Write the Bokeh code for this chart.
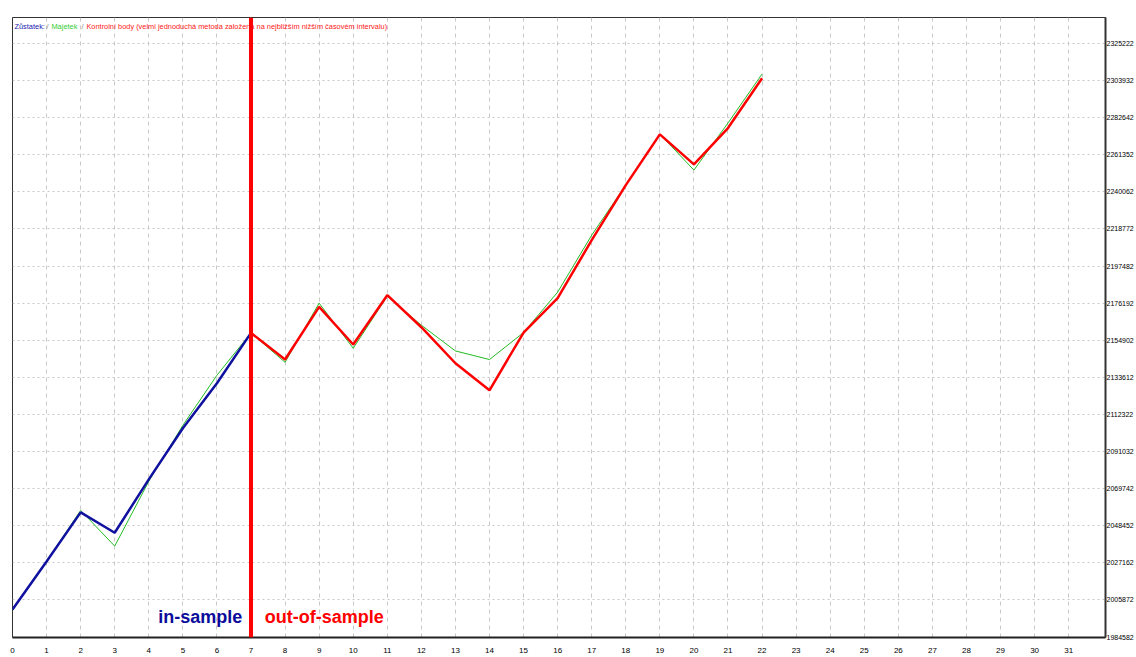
from bokeh.plotting import figure
from bokeh.models import Range1d, FixedTicker, Span, LinearAxis, BasicTickFormatter
from bokeh.core.properties import value
from bokeh.embed import file_html
from bokeh.resources import INLINE

# ---- data ----
x_balance = [0, 1, 2, 3, 4, 5, 6, 7]
balance = [2000381, 2027957, 2056107, 2044445, 2075066, 2104365, 2130218, 2159115]

x_equity = list(range(0, 23))
equity = [2000381, 2027957, 2057256, 2036747, 2073917, 2106089, 2134814, 2159115,
          2142282, 2176178, 2150325, 2180199, 2163539, 2148774, 2143833, 2159345,
          2182497, 2215244, 2243969, 2273268, 2252586, 2279588, 2307738]

x_control = list(range(7, 23))
control = [2159115, 2143833, 2174052, 2152451, 2180774, 2162390, 2141708, 2126196,
           2159345, 2179050, 2212371, 2243969, 2273096, 2255861, 2276715, 2305268]

y_ticks = [1984582 + k * 21290 for k in range(17)]
x_ticks = list(range(0, 32))
split_index = 7

legend_parts = ["Zůstatek:", "/", "Majetek", "/",
                "Kontrolní body (velmi jednoduchá metoda založená na nejbližším nižším časovém intervalu)"]
legend_colors = ["#1a1ab0", "#888888", "#33cc33", "#888888", "#ff2020"]
legend_px = [14, 46, 51, 81, 86]

BLUE = "#1111a0"
RED = "#ff0000"
GREEN = "#22bb22"
FONT = "Liberation Sans"

p = figure(width=1136, height=655, output_backend="svg", toolbar_location=None,
           x_range=Range1d(0, 32.08), y_range=Range1d(1984295, 2340158),
           min_border_left=12, min_border_top=17, min_border_right=0, min_border_bottom=0,
           y_axis_location=None)

p.background_fill_color = "white"
p.border_fill_color = "white"
p.outline_line_color = "#333333"
p.outline_line_width = 1

# x axis
p.xaxis.ticker = FixedTicker(ticks=x_ticks)
p.xaxis.axis_line_color = "#222222"
p.xaxis.axis_line_width = 2
p.xaxis.major_tick_line_color = None
p.xaxis.minor_tick_line_color = None
p.xaxis.major_label_standoff = 4
p.xaxis.major_label_text_font = FONT
p.xaxis.major_label_text_font_size = "8px"
p.xaxis.major_label_text_color = "#000000"

# right y axis
yax = LinearAxis(ticker=FixedTicker(ticks=y_ticks),
                 formatter=BasicTickFormatter(use_scientific=False))
yax.axis_line_color = "#333333"
yax.axis_line_width = 2
yax.major_tick_line_color = None
yax.minor_tick_line_color = None
yax.major_tick_out = 0
yax.major_tick_in = 0
yax.major_label_standoff = 1
yax.major_label_text_font = FONT
yax.major_label_text_font_size = "7px"
yax.major_label_text_color = "#000000"
p.add_layout(yax, "right")

# grid
p.xgrid.ticker = FixedTicker(ticks=x_ticks)
p.xgrid.grid_line_color = "#c8c8c8"
p.xgrid.grid_line_dash = "4 4"
p.ygrid.ticker = FixedTicker(ticks=y_ticks)
p.ygrid.grid_line_color = "#c8c8c8"
p.ygrid.grid_line_dash = "2 3"

# lines
p.line(x_equity, equity, line_color=GREEN, line_width=1)
p.line(x_balance, balance, line_color=BLUE, line_width=2.5)
p.line(x_control, control, line_color=RED, line_width=2.5)

# split line
p.add_layout(Span(location=split_index, dimension="height", line_color=RED, line_width=4))

# legend text at top (pixel -> data mapping)
def px_to_x(px):
    return (px - 12) / 34.1

def py_to_y(py):
    return 1984582 + (636.5 - py) * 574.5

for txt, col, px in zip(legend_parts, legend_colors, legend_px):
    p.text(x=[px_to_x(px)], y=[py_to_y(27)], text=[txt], text_color=col,
           text_font=value(FONT), text_font_size="7.4px",
           text_align="left", text_baseline="middle")

p.text(x=[px_to_x(200)], y=[py_to_y(617)], text=["in-sample"], text_color="#0b0b9b",
       text_font=value(FONT), text_font_size="18px", text_font_style="bold",
       text_align="center", text_baseline="middle")
p.text(x=[px_to_x(324)], y=[py_to_y(617)], text=["out-of-sample"], text_color=RED,
       text_font=value(FONT), text_font_size="18px", text_font_style="bold",
       text_align="center", text_baseline="middle")

open("out.html", "w").write(file_html(p, INLINE))
